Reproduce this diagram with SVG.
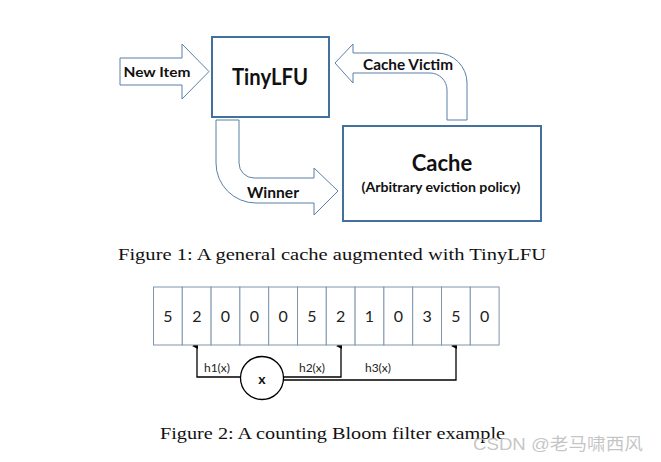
<svg xmlns="http://www.w3.org/2000/svg" width="661" height="462" viewBox="0 0 661 462">
<style>
.box{fill:#fff;stroke:#41719c;stroke-width:2}
.barrow{fill:#fff;stroke:#5b7fa6;stroke-width:1}
.lbl{font-family:Lato,"Liberation Sans",sans-serif;font-weight:bold;fill:#111}
.cell{fill:#fff;stroke:#7f95ad;stroke-width:1}
.dig{font-family:Lato,"Liberation Sans",sans-serif;font-size:16px;fill:#222;text-anchor:middle}
.hl{font-family:Lato,"Liberation Sans",sans-serif;font-size:12px;fill:#222;text-anchor:middle}
.cap{font-family:"Liberation Serif","DejaVu Serif",serif;font-size:17.5px;fill:#111}
.ln{fill:none;stroke:#000;stroke-width:1.3}
</style>
<defs>
<marker id="ah" markerWidth="6" markerHeight="6" refX="3" refY="5" orient="auto" markerUnits="userSpaceOnUse" viewBox="0 0 6 6">
<path d="M0,6 L3,0 L6,6 Z" fill="#000"/>
</marker>
</defs>
<g id="connectors">
<path class="barrow" d="M120,58 L182,58 L182,44 L209,71.5 L182,99 L182,85 L120,85 Z"/>
<path class="barrow" d="M216,120 L239,120 L239,163 A15,15 0 0 0 254,178 L314,178 L314,168 L338,191 L314,215 L314,203 L256,203 A40,40 0 0 1 216,163 Z"/>
<path class="barrow" d="M335,63 L353,44 L353,53 L437,53 A30,30 0 0 1 467,83 L467,120 L447,120 L447,90 A17,17 0 0 0 430,73 L353,73 L353,83 Z"/>
<text class="lbl" x="157" y="77" font-size="14" text-anchor="middle" textLength="67" lengthAdjust="spacingAndGlyphs">New Item</text>
<text class="lbl" x="273" y="198" font-size="15" text-anchor="middle" textLength="52" lengthAdjust="spacingAndGlyphs">Winner</text>
<text class="lbl" x="408" y="70" font-size="15" text-anchor="middle" textLength="90" lengthAdjust="spacingAndGlyphs">Cache Victim</text>
<path class="ln" d="M240,377 L197,377 L197,346" marker-end="url(#ah)"/>
<path class="ln" d="M283,377 L341,377 L341,346" marker-end="url(#ah)"/>
<path class="ln" d="M283,380 L456,380 L456,346" marker-end="url(#ah)"/>
<text class="hl" x="217" y="372">h1(x)</text>
<text class="hl" x="312" y="372">h2(x)</text>
<text class="hl" x="378" y="372">h3(x)</text>
</g>
<g id="tinylfu">
<rect class="box" x="212" y="37" width="117" height="80"/>
<text class="lbl" x="270" y="85" font-size="22" text-anchor="middle" textLength="76" lengthAdjust="spacingAndGlyphs">TinyLFU</text>
</g>
<g id="cache">
<rect class="box" x="343" y="126" width="198" height="95"/>
<text class="lbl" x="442" y="171" font-size="22" text-anchor="middle">Cache</text>
<text class="lbl" x="441" y="192" font-size="13" text-anchor="middle" textLength="159" lengthAdjust="spacingAndGlyphs">(Arbitrary eviction policy)</text>
</g>
<text class="cap" x="118" y="260" textLength="428" lengthAdjust="spacingAndGlyphs">Figure 1: A general cache augmented with TinyLFU</text>
<g id="array">
<rect class="cell" x="153.5" y="287" width="28.8" height="58"/>
<rect class="cell" x="182.3" y="287" width="28.8" height="58"/>
<rect class="cell" x="211.1" y="287" width="28.8" height="58"/>
<rect class="cell" x="239.9" y="287" width="28.8" height="58"/>
<rect class="cell" x="268.7" y="287" width="28.8" height="58"/>
<rect class="cell" x="297.5" y="287" width="28.8" height="58"/>
<rect class="cell" x="326.3" y="287" width="28.8" height="58"/>
<rect class="cell" x="355.1" y="287" width="28.8" height="58"/>
<rect class="cell" x="383.9" y="287" width="28.8" height="58"/>
<rect class="cell" x="412.7" y="287" width="28.8" height="58"/>
<rect class="cell" x="441.5" y="287" width="28.8" height="58"/>
<rect class="cell" x="470.3" y="287" width="28.8" height="58"/>
<text class="dig" x="168" y="322">5</text>
<text class="dig" x="197" y="322">2</text>
<text class="dig" x="225.5" y="322">0</text>
<text class="dig" x="254.3" y="322">0</text>
<text class="dig" x="283.1" y="322">0</text>
<text class="dig" x="311.9" y="322">5</text>
<text class="dig" x="340.7" y="322">2</text>
<text class="dig" x="369.5" y="322">1</text>
<text class="dig" x="398.3" y="322">0</text>
<text class="dig" x="427.1" y="322">3</text>
<text class="dig" x="455.9" y="322">5</text>
<text class="dig" x="484.7" y="322">0</text>
</g>
<g id="x-node">
<circle cx="262" cy="378" r="21.5" fill="#fff" stroke="#000" stroke-width="1.3"/>
<text class="lbl" x="262" y="384" font-size="14" text-anchor="middle">x</text>
</g>
<text class="cap" x="160" y="439" textLength="345" lengthAdjust="spacingAndGlyphs">Figure 2: A counting Bloom filter example</text>
<text x="473" y="450" font-family="'Liberation Sans','Noto Sans CJK SC',sans-serif" font-size="17" fill="#bbbbbb" fill-opacity="0.85" textLength="170" lengthAdjust="spacingAndGlyphs">CSDN @老马啸西风</text>
</svg>
